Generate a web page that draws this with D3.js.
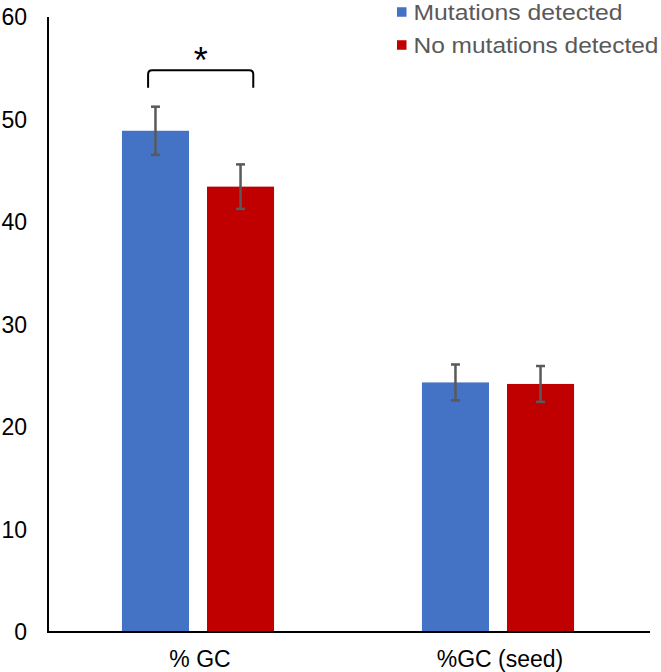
<!DOCTYPE html>
<html><head><meta charset="utf-8">
<script src="https://cdn.jsdelivr.net/npm/d3@7"></script>
<style>html,body{margin:0;padding:0;background:#fff;overflow:hidden}</style>
</head><body>
<svg id="chart" width="661" height="672"></svg>
<script>
const categories = ["% GC", "%GC (seed)"];
const seriesNames = ["Mutations detected", "No mutations detected"];
const mutationsDetected = [48.9, 24.35];
const noMutationsDetected = [43.45, 24.2];
const errMutations = [2.35, 1.75];
const errNoMutations = [2.17, 1.75];
const yTicks = [0, 10, 20, 30, 40, 50, 60];
const significance = { category: "% GC", label: "*", top: 54.8, leg: 53.1 };

const colors = ["#4472C4", "#C00000"];
const font = "'Liberation Sans', Arial, sans-serif";

const svg = d3.select("#chart");
const plotLeft = 48, plotRight = 648, axisRight = 650, plotTop = 17, plotBottom = 632;

const y = d3.scaleLinear().domain([0, 60]).range([plotBottom, plotTop]);
const x0 = d3.scaleBand().domain(categories).range([plotLeft, plotRight]).paddingInner(0.493).paddingOuter(0.2465);
const x1 = d3.scaleBand().domain(seriesNames).range([0, x0.bandwidth()]).paddingInner(0.2118);

const data = categories.map((c, i) => ({
  cat: c,
  vals: [
    { s: seriesNames[0], v: mutationsDetected[i], e: errMutations[i], c: colors[0] },
    { s: seriesNames[1], v: noMutationsDetected[i], e: errNoMutations[i], c: colors[1] }
  ]
}));

const g = svg.append("g");
const groups = g.selectAll("g.grp").data(data).join("g")
  .attr("class", "grp")
  .attr("transform", d => `translate(${x0(d.cat)},0)`);

groups.selectAll("rect").data(d => d.vals).join("rect")
  .attr("x", d => x1(d.s))
  .attr("width", x1.bandwidth())
  .attr("y", d => y(d.v))
  .attr("height", d => y(0) - y(d.v))
  .attr("fill", d => d.c);

// error bars
const capW = 9;
groups.selectAll("g.err").data(d => d.vals).join("g").attr("class", "err").each(function(d) {
  const cx = x1(d.s) + x1.bandwidth() / 2;
  const e = d3.select(this).attr("stroke", "#595959").attr("stroke-width", 2.5);
  e.append("line").attr("x1", cx).attr("x2", cx).attr("y1", y(d.v + d.e)).attr("y2", y(d.v - d.e));
  e.append("line").attr("x1", cx - capW / 2).attr("x2", cx + capW / 2).attr("y1", y(d.v + d.e)).attr("y2", y(d.v + d.e));
  e.append("line").attr("x1", cx - capW / 2).attr("x2", cx + capW / 2).attr("y1", y(d.v - d.e)).attr("y2", y(d.v - d.e));
});

// axes
svg.append("line").attr("x1", plotLeft).attr("x2", plotLeft).attr("y1", y(60)).attr("y2", y(0) + 1)
  .attr("stroke", "#000").attr("stroke-width", 2);
svg.append("line").attr("x1", plotLeft - 1).attr("x2", axisRight).attr("y1", y(0)).attr("y2", y(0))
  .attr("stroke", "#000").attr("stroke-width", 2);

// y tick labels
svg.selectAll("text.ytick").data(yTicks).join("text")
  .attr("class", "ytick")
  .attr("x", 27).attr("y", d => y(d))
  .attr("dy", "0.35em")
  .attr("text-anchor", "end")
  .attr("font-family", font).attr("font-size", 23)
  .attr("fill", "#000")
  .text(d => d);

// category labels
svg.selectAll("text.xcat").data(categories).join("text")
  .attr("class", "xcat")
  .attr("x", d => x0(d) + x0.bandwidth() / 2 + 2)
  .attr("y", 667)
  .attr("text-anchor", "middle")
  .attr("font-family", font).attr("font-size", 23)
  .attr("fill", "#000")
  .text(d => d);

// significance bracket
const bx = x0(significance.category);
const bl = bx + x1(seriesNames[0]) + x1.bandwidth() * 0.39;
const br = bx + x1(seriesNames[1]) + x1.bandwidth() * 0.69;
const yt = y(significance.top), yl = y(significance.leg), r = 4;
svg.append("path")
  .attr("d", `M${bl},${yl} L${bl},${yt + r} Q${bl},${yt} ${bl + r},${yt} L${br - r},${yt} Q${br},${yt} ${br},${yt + r} L${br},${yl}`)
  .attr("fill", "none").attr("stroke", "#000").attr("stroke-width", 2);
svg.append("text")
  .attr("x", (bl + br) / 2).attr("y", 73)
  .attr("text-anchor", "middle")
  .attr("font-family", font).attr("font-size", 36)
  .attr("fill", "#000")
  .text(significance.label);

// legend
const legendWidths = [209, 245];
const lg = svg.append("g");
seriesNames.forEach((s, i) => {
  const cy = 12 + i * 33;
  lg.append("rect").attr("x", 397).attr("y", cy - 4.75).attr("width", 9.5).attr("height", 9.5).attr("fill", colors[i]);
  lg.append("text").attr("x", 413.5).attr("y", 20 + i * 33)
    .attr("font-family", font).attr("font-size", 22)
    .attr("textLength", legendWidths[i]).attr("lengthAdjust", "spacingAndGlyphs")
    .attr("fill", "#595959")
    .text(s);
});
</script>
</body></html>
